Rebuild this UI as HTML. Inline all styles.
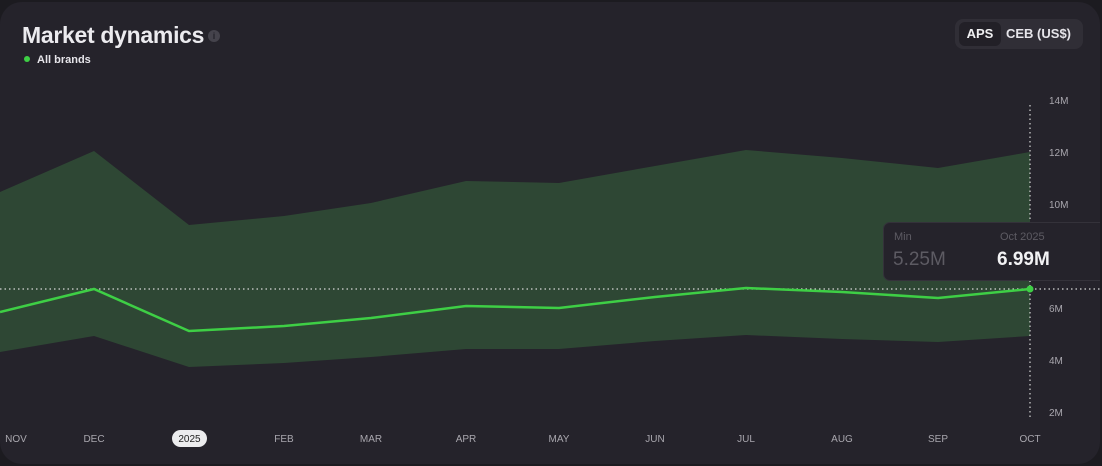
<!DOCTYPE html>
<html><head><meta charset="utf-8"><style>
body{margin:0;width:1102px;height:466px;background:#1c1b20;overflow:hidden;font-family:"Liberation Sans",sans-serif;}
.card{position:absolute;left:0;top:2px;width:1100px;height:462px;background:#25232b;border-radius:22px;overflow:hidden;}
.t{position:absolute;left:22px;top:20px;font-size:23px;font-weight:bold;color:#ecebef;letter-spacing:-0.3px}
.info{position:absolute;left:208px;top:28px;width:12px;height:12px;border-radius:50%;background:#45434c;color:#25232b;font-size:9px;text-align:center;line-height:12px;font-weight:bold}
.lg{position:absolute;left:24px;top:52px;font-size:11px;font-weight:bold;color:#e6e5ea}
.lg span{display:inline-block;width:6px;height:6px;border-radius:50%;background:#3ecf45;margin-right:7px;vertical-align:1px}
.tg{position:absolute;left:955px;top:17px;width:128px;height:30px;border-radius:8px;background:#302e36}
.tg .a{position:absolute;left:4px;top:3px;width:42px;height:24px;border-radius:6px;background:#222027;color:#f0f0f2;font-size:13px;font-weight:bold;text-align:center;line-height:24px}
.tg .b{position:absolute;left:51px;top:3px;color:#e6e5ea;font-size:13px;font-weight:bold;line-height:24px}
.tip{position:absolute;left:883px;top:220px;width:230px;height:57px;background:#25232b;border:1px solid #34323a;border-radius:7px}
.tip .l{position:absolute;top:8px;font-size:11px;color:#5d5b63}
.tip .v{position:absolute;top:26px;font-size:19px;}
</style></head><body>
<div class="card">
<svg width="1102" height="466" style="position:absolute;left:0;top:-2px">
<polygon fill="#2e4734" points="0,192 94,151 189,225 284,216 371,203 466,181 559,183 655,166 746,150 842,158 938,168 1030,152 1030,336 938,342 842,339 746,335 655,341 559,349 466,349 371,357 284,363 189,367 94,336 0,352"/>
<line x1="0" y1="289" x2="1102" y2="289" stroke="#d8d8d8" stroke-width="1.2" stroke-dasharray="1.5,3"/>
<line x1="1030" y1="105" x2="1030" y2="418" stroke="#d8d8d8" stroke-width="1.2" stroke-dasharray="1.5,3"/>
<polyline fill="none" stroke="#3ecf45" stroke-width="2.5" points="0,312 94,289 189,331 284,326 371,318 466,306 559,308 655,297 746,288 842,292 938,298 1030,289"/>
<circle cx="1030" cy="289" r="3.5" fill="#3ecf45"/>
<g font-size="10" fill="#a9a7ae" font-family="Liberation Sans">
<text x="1049" y="104">14M</text><text x="1049" y="156">12M</text><text x="1049" y="208">10M</text><text x="1049" y="312">6M</text><text x="1049" y="364">4M</text><text x="1049" y="416">2M</text>
</g>
<g font-size="10" fill="#a9a7ae" font-family="Liberation Sans" text-anchor="middle">
<text x="16" y="442">NOV</text><text x="94" y="442">DEC</text><text x="284" y="442">FEB</text><text x="371" y="442">MAR</text><text x="466" y="442">APR</text><text x="559" y="442">MAY</text><text x="655" y="442">JUN</text><text x="746" y="442">JUL</text><text x="842" y="442">AUG</text><text x="938" y="442">SEP</text><text x="1030" y="442">OCT</text>
</g>
<rect x="172" y="430" width="35" height="17" rx="8.5" fill="#ececee"/>
<text x="189.5" y="442" font-size="10" fill="#222" text-anchor="middle" font-family="Liberation Sans">2025</text>
</svg>
<div class="t">Market dynamics</div><div class="info">i</div>
<div class="lg"><span></span>All brands</div>
<div class="tg"><div class="a">APS</div><div class="b">CEB (US$)</div></div>
<div class="tip"><div class="l" style="left:10px">Min</div><div class="l" style="left:116px">Oct 2025</div>
<div class="v" style="left:9px;color:#5d5b63">5.25M</div><div class="v" style="left:113px;color:#f2f2f4;font-weight:bold">6.99M</div></div>
</div>
</body></html>
